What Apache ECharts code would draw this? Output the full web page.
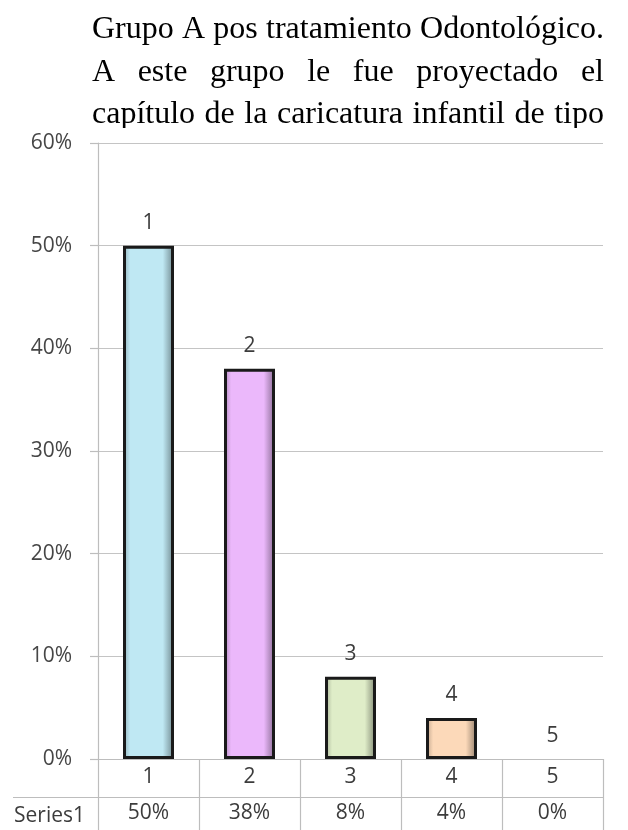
<!DOCTYPE html>
<html>
<head>
<meta charset="utf-8">
<script src="https://cdn.jsdelivr.net/npm/echarts@6/dist/echarts.min.js"></script>
<style>
  html, body { margin: 0; padding: 0; background: #ffffff; }
  #chart { width: 628px; height: 830px; }
</style>
</head>
<body>
<div id="chart"></div>
<script>
// Paragraph lines shown above the chart
const paragraphLines = [
  'Grupo A pos tratamiento Odontológico.',
  'A este grupo le fue proyectado el',
  'capítulo de la caricatura infantil de tipo'
];

// Chart data
const categories = ['1', '2', '3', '4', '5'];
const values = [50, 38, 8, 4, 0];          // percent
const seriesName = 'Series1';
const barColors = ['#bfe8f3', '#ebb8fb', '#dfedc8', '#fcd9b9', '#c6d9f1'];

const uiFont = '"Open Sans", "DejaVu Sans", sans-serif';
const serifFont = '"Liberation Serif", "Times New Roman", serif';

// Darker tone of a hex colour, used for the bevelled bar edges
function shade(hex, f) {
  const n = parseInt(hex.slice(1), 16);
  const r = Math.round(((n >> 16) & 255) * f);
  const g = Math.round(((n >> 8) & 255) * f);
  const b = Math.round((n & 255) * f);
  return 'rgb(' + r + ',' + g + ',' + b + ')';
}

// Justified paragraph: words are spread to fill the line width
const measureCtx = document.createElement('canvas').getContext('2d');
const paraFontSize = 32;
measureCtx.font = paraFontSize + 'px ' + serifFont;
const paraLeft = 92, paraRight = 604, paraTop = 30, paraLineGap = 42.5;
const paragraphGraphics = [];
paragraphLines.forEach(function (line, li) {
  const words = line.split(' ');
  const widths = words.map(function (w) { return measureCtx.measureText(w).width; });
  const total = widths.reduce(function (a, b) { return a + b; }, 0);
  const gap = words.length > 1 ? (paraRight - paraLeft - total) / (words.length - 1) : 0;
  let x = paraLeft;
  words.forEach(function (w, wi) {
    paragraphGraphics.push({
      type: 'text',
      x: x,
      y: paraTop + li * paraLineGap,
      style: {
        text: w,
        font: paraFontSize + 'px ' + serifFont,
        fill: '#000000',
        verticalAlign: 'middle',
        align: 'left'
      },
      z: 1
    });
    x += widths[wi] + gap;
  });
});

const chart = echarts.init(document.getElementById('chart'), null, { renderer: 'canvas' });

const barData = values.map(function (v, i) {
  const c = barColors[i];
  return {
    value: v,
    itemStyle: {
      color: new echarts.graphic.LinearGradient(0, 0, 1, 0, [
        { offset: 0, color: shade(c, 0.75) },
        { offset: 0.14, color: c },
        { offset: 0.78, color: c },
        { offset: 1, color: shade(c, 0.58) }
      ]),
      borderColor: '#1a1a1a',
      borderWidth: v === 0 ? 0 : 3
    }
  };
});

const option = {
  backgroundColor: '#ffffff',
  animation: false,
  grid: { left: 98, right: 25, top: 143, bottom: 71, containLabel: false },
  xAxis: [
    {
      type: 'category',
      data: categories,
      position: 'bottom',
      axisLine: { show: true, lineStyle: { color: '#bdbdbd', width: 1.2 } },
      axisTick: { show: true, length: 71, lineStyle: { color: '#bdbdbd', width: 1.2 } },
      axisLabel: { margin: 8, fontSize: 21, color: '#3c3c3c', fontFamily: uiFont }
    },
    {
      type: 'category',
      data: categories,
      position: 'bottom',
      offset: 38,
      axisLine: { show: false },
      axisTick: { show: false },
      axisLabel: {
        margin: 6,
        fontSize: 21,
        color: '#3c3c3c',
        fontFamily: uiFont,
        formatter: function (v, i) { return values[i] + '%'; }
      }
    }
  ],
  yAxis: {
    type: 'value',
    min: 0,
    max: 60,
    interval: 10,
    axisLine: { show: true, lineStyle: { color: '#bdbdbd', width: 1.2 } },
    axisTick: { show: true, length: 8, lineStyle: { color: '#bdbdbd', width: 1.2 } },
    splitLine: { show: true, lineStyle: { color: '#c4c4c4', width: 1.2 } },
    axisLabel: { formatter: '{value}%', margin: 26, fontSize: 21, color: '#464646', fontFamily: uiFont }
  },
  series: [
    {
      name: seriesName,
      type: 'bar',
      xAxisIndex: 0,
      barWidth: 51,
      data: barData,
      label: {
        show: true,
        position: 'top',
        distance: 12,
        formatter: '{b}',
        fontSize: 21,
        color: '#3c3c3c',
        fontFamily: uiFont
      }
    }
  ],
  graphic: paragraphGraphics.concat([
    // lower edge of the paragraph is cut by the chart frame
    { type: 'rect', shape: { x: 86, y: 128, width: 542, height: 8 }, style: { fill: '#ffffff' }, z: 5 },
    // data table row separator
    { type: 'line', shape: { x1: 13, y1: 797.5, x2: 603, y2: 797.5 }, style: { stroke: '#bdbdbd', lineWidth: 1.2 }, z: 5 },
    // data table row header
    {
      type: 'text', x: 14, y: 816,
      style: { text: seriesName, font: '21px ' + uiFont, fill: '#3c3c3c', verticalAlign: 'middle', align: 'left' },
      z: 5
    }
  ])
};

chart.setOption(option);
</script>
</body>
</html>
